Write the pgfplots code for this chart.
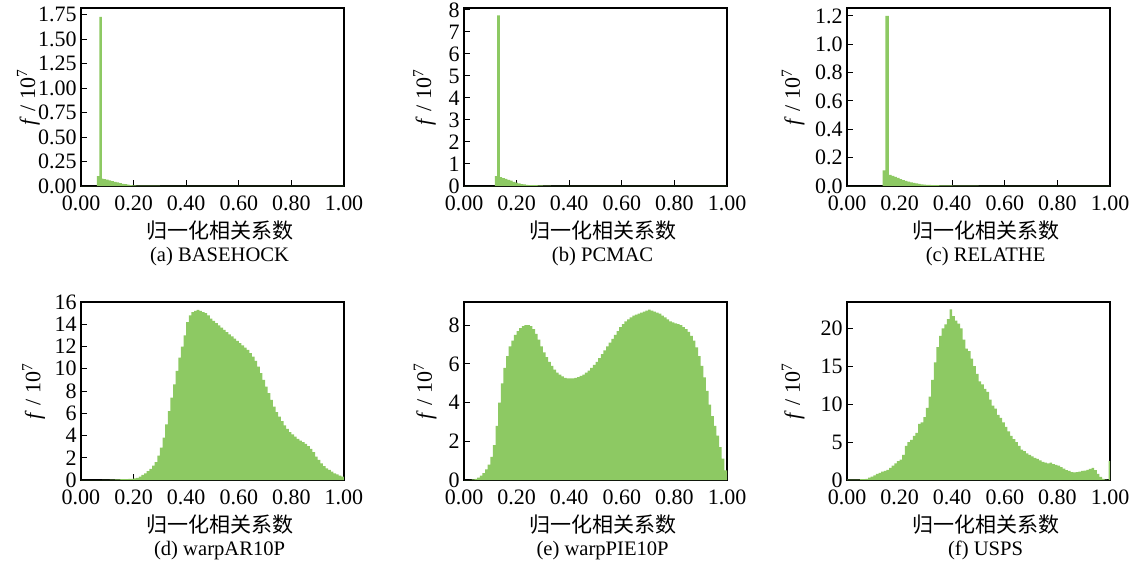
\documentclass[border=0pt]{standalone}
\usepackage{fontspec}
\setmainfont{Liberation Serif}
\newfontfamily\cjk{Noto Sans CJK SC}
\usepackage{pgfplots}
\pgfplotsset{compat=1.18}
\definecolor{histgreen}{RGB}{141,201,99}

\pgfplotsset{
  hist/.style={
    scale only axis,
    width=131.5pt, height=89pt,
    anchor=south west,
    xmin=0, xmax=1, ymin=0,
    axis line style={black, line width=0.7pt},
    tick align=inside,
    xtick pos=lower, ytick pos=lower,
    tick style={black, line width=0.5pt},
    major tick length=3pt,
    xtick={0,0.2,0.4,0.6,0.8,1},
    xticklabels={0.00,0.20,0.40,0.60,0.80,1.00},
    tick label style={font=\fontsize{11}{12}\selectfont},
    xticklabel style={yshift=-4.5pt, inner ysep=0pt},
    yticklabel style={inner xsep=2pt, inner ysep=0pt},
    ylabel={\textit{f} / 10\textsuperscript{7}},
    ylabel style={font=\fontsize{11}{12}\selectfont, anchor=center},
    xlabel style={font=\fontsize{10.3}{11.5}\selectfont, align=center,
      at={(axis description cs:0.527,-0.32)}, anchor=center},
  },
  bars/.style={fill=histgreen, draw=none, const plot mark left},
}

\begin{document}
\begin{tikzpicture}
\path[use as bounding box] (0,0) rectangle (568pt,-280.5pt);

% (a)
\begin{axis}[hist, at={(40.5pt,-93pt)}, ymax=1.82,
  ytick={0,0.25,0.5,0.75,1,1.25,1.5,1.75},
  yticklabels={0.00,0.25,0.50,0.75,1.00,1.25,1.50,1.75},
  ylabel style={at={(axis description cs:-0.2,0.5)}},
  xlabel={{\cjk\fontsize{10.5}{11.5}\selectfont 归一化相关系数}\\(a) BASEHOCK}]
\addplot[bars] coordinates {
(0,0) (0.060,0.10) (0.070,1.73) (0.079,0.075) (0.085,0.070) (0.095,0.065)
(0.105,0.058) (0.115,0.050) (0.125,0.043) (0.135,0.036) (0.145,0.029)
(0.155,0.023) (0.165,0.018) (0.175,0.013) (0.185,0.010) (0.195,0.007)
(0.21,0.005) (0.24,0.003) (0.30,0.002) (0.45,0.001) (0.70,0.0005) (1.0,0.0005)
} \closedcycle;
\end{axis}

% (b)
\begin{axis}[hist, at={(232pt,-93pt)}, ymax=8.09,
  ytick={0,1,2,3,4,5,6,7,8},
  yticklabels={0,1,2,3,4,5,6,7,8},
  ylabel style={at={(axis description cs:-0.15,0.5)}},
  xlabel={{\cjk\fontsize{10.5}{11.5}\selectfont 归一化相关系数}\\(b) PCMAC}]
\addplot[bars] coordinates {
(0,0) (0.117,0.45) (0.1255,7.75) (0.136,0.40) (0.145,0.36) (0.155,0.32)
(0.165,0.28) (0.175,0.24) (0.185,0.19) (0.195,0.15) (0.205,0.12) (0.215,0.09)
(0.225,0.07) (0.235,0.055) (0.245,0.045) (0.26,0.035) (0.28,0.025) (0.30,0.015)
(0.33,0.008) (0.40,0.004) (0.55,0.002) (1.0,0.002)
} \closedcycle;
\end{axis}

% (c)
\begin{axis}[hist, at={(423.5pt,-93pt)}, ymax=1.256,
  ytick={0,0.2,0.4,0.6,0.8,1.0,1.2},
  yticklabels={0.0,0.2,0.4,0.6,0.8,1.0,1.2},
  ylabel style={at={(axis description cs:-0.205,0.5)}},
  xlabel={{\cjk\fontsize{10.5}{11.5}\selectfont 归一化相关系数}\\(c) RELATHE}]
\addplot[bars] coordinates {
(0,0) (0.135,0.11) (0.146,1.20) (0.159,0.078) (0.17,0.072) (0.18,0.065)
(0.19,0.058) (0.20,0.048) (0.21,0.042) (0.22,0.036) (0.23,0.031) (0.24,0.026)
(0.25,0.022) (0.26,0.018) (0.27,0.015) (0.28,0.012) (0.29,0.010) (0.30,0.008)
(0.32,0.006) (0.35,0.004) (0.40,0.003) (0.50,0.0015) (1.0,0.0015)
} \closedcycle;
\end{axis}

% (d)
\begin{axis}[hist, at={(40.5pt,-240pt)}, ymax=16,
  ytick={0,2,4,6,8,10,12,14,16},
  yticklabels={0,2,4,6,8,10,12,14,16},
  ylabel style={at={(axis description cs:-0.18,0.5)}},
  xlabel={{\cjk\fontsize{10.5}{11.5}\selectfont 归一化相关系数}\\(d) warpAR10P}]
\addplot[bars] table[row sep=\\] {
x y\\
0.00 0\\ 0.01 0\\ 0.02 0\\ 0.03 0\\ 0.04 0\\ 0.05 0\\ 0.06 0\\ 0.07 0\\ 0.08 0.01\\ 0.09 0.01\\
0.10 0.02\\ 0.11 0.03\\ 0.12 0.04\\ 0.13 0.05\\ 0.14 0.06\\ 0.15 0.07\\ 0.16 0.08\\ 0.17 0.09\\ 0.18 0.10\\ 0.19 0.11\\
0.20 0.15\\ 0.21 0.20\\ 0.22 0.30\\ 0.23 0.45\\ 0.24 0.60\\ 0.25 0.80\\ 0.26 1.0\\ 0.27 1.3\\ 0.28 1.6\\ 0.29 2.2\\
0.30 2.9\\ 0.31 3.8\\ 0.32 5.0\\ 0.33 6.2\\ 0.34 7.4\\ 0.35 8.6\\ 0.36 9.8\\ 0.37 11.0\\ 0.38 12.0\\ 0.39 13.0\\
0.40 14.2\\ 0.41 14.8\\ 0.42 15.1\\ 0.43 15.2\\ 0.44 15.3\\ 0.45 15.2\\ 0.46 15.1\\ 0.47 15.0\\ 0.48 14.8\\ 0.49 14.5\\
0.50 14.3\\ 0.51 14.1\\ 0.52 13.9\\ 0.53 13.7\\ 0.54 13.5\\ 0.55 13.3\\ 0.56 13.1\\ 0.57 12.9\\ 0.58 12.7\\ 0.59 12.5\\
0.60 12.3\\ 0.61 12.1\\ 0.62 11.9\\ 0.63 11.7\\ 0.64 11.4\\ 0.65 11.1\\ 0.66 10.7\\ 0.67 10.2\\ 0.68 9.6\\ 0.69 9.0\\
0.70 8.4\\ 0.71 7.8\\ 0.72 7.2\\ 0.73 6.6\\ 0.74 6.1\\ 0.75 5.7\\ 0.76 5.3\\ 0.77 4.9\\ 0.78 4.6\\ 0.79 4.3\\
0.80 4.1\\ 0.81 3.9\\ 0.82 3.7\\ 0.83 3.55\\ 0.84 3.4\\ 0.85 3.25\\ 0.86 3.05\\ 0.87 2.8\\ 0.88 2.5\\ 0.89 2.1\\
0.90 1.8\\ 0.91 1.5\\ 0.92 1.25\\ 0.93 1.05\\ 0.94 0.9\\ 0.95 0.75\\ 0.96 0.6\\ 0.97 0.5\\ 0.98 0.4\\ 0.99 0.3\\
1.00 0.3\\
} \closedcycle;
\end{axis}

% (e)
\begin{axis}[hist, at={(232pt,-240pt)}, ymax=9.2,
  ytick={0,2,4,6,8},
  yticklabels={0,2,4,6,8},
  ylabel style={at={(axis description cs:-0.148,0.5)}},
  xlabel={{\cjk\fontsize{10.5}{11.5}\selectfont 归一化相关系数}\\(e) warpPIE10P}]
\addplot[bars] table[row sep=\\] {
x y\\
0.00 0\\ 0.01 0\\ 0.02 0.01\\ 0.03 0.03\\ 0.04 0.06\\ 0.05 0.12\\ 0.06 0.22\\ 0.07 0.35\\ 0.08 0.55\\ 0.09 0.8\\
0.10 1.2\\ 0.11 1.8\\ 0.12 2.8\\ 0.13 4.0\\ 0.14 5.0\\ 0.15 5.8\\ 0.16 6.4\\ 0.17 6.9\\ 0.18 7.2\\ 0.19 7.5\\
0.20 7.7\\ 0.21 7.85\\ 0.22 7.95\\ 0.23 8.0\\ 0.24 8.0\\ 0.25 7.95\\ 0.26 7.8\\ 0.27 7.55\\ 0.28 7.25\\ 0.29 6.9\\
0.30 6.6\\ 0.31 6.35\\ 0.32 6.1\\ 0.33 5.9\\ 0.34 5.7\\ 0.35 5.55\\ 0.36 5.45\\ 0.37 5.35\\ 0.38 5.28\\ 0.39 5.25\\
0.40 5.25\\ 0.41 5.25\\ 0.42 5.28\\ 0.43 5.32\\ 0.44 5.38\\ 0.45 5.45\\ 0.46 5.55\\ 0.47 5.65\\ 0.48 5.8\\ 0.49 5.95\\
0.50 6.1\\ 0.51 6.3\\ 0.52 6.5\\ 0.53 6.7\\ 0.54 6.9\\ 0.55 7.1\\ 0.56 7.3\\ 0.57 7.5\\ 0.58 7.7\\ 0.59 7.9\\
0.60 8.05\\ 0.61 8.2\\ 0.62 8.3\\ 0.63 8.4\\ 0.64 8.5\\ 0.65 8.55\\ 0.66 8.6\\ 0.67 8.65\\ 0.68 8.7\\ 0.69 8.75\\
0.70 8.8\\ 0.71 8.75\\ 0.72 8.7\\ 0.73 8.65\\ 0.74 8.6\\ 0.75 8.5\\ 0.76 8.4\\ 0.77 8.3\\ 0.78 8.2\\ 0.79 8.15\\
0.80 8.1\\ 0.81 8.05\\ 0.82 8.0\\ 0.83 7.9\\ 0.84 7.8\\ 0.85 7.65\\ 0.86 7.45\\ 0.87 7.2\\ 0.88 6.85\\ 0.89 6.4\\
0.90 5.9\\ 0.91 5.3\\ 0.92 4.6\\ 0.93 3.9\\ 0.94 3.3\\ 0.95 2.8\\ 0.96 2.3\\ 0.97 1.7\\ 0.98 1.1\\ 0.99 0.5\\
1.00 0.5\\
} \closedcycle;
\end{axis}

% (f)
\begin{axis}[hist, at={(423.5pt,-240pt)}, ymax=23.46,
  ytick={0,5,10,15,20},
  yticklabels={0,5,10,15,20},
  ylabel style={at={(axis description cs:-0.205,0.5)}},
  xlabel={{\cjk\fontsize{10.5}{11.5}\selectfont 归一化相关系数}\\(f) USPS}]
\addplot[bars] table[row sep=\\] {
x y\\
0.00 0.05\\ 0.01 0.05\\ 0.02 0.05\\ 0.03 0.05\\ 0.04 0.05\\ 0.05 0.1\\ 0.06 0.1\\ 0.07 0.15\\ 0.08 0.3\\ 0.09 0.45\\
0.10 0.6\\ 0.11 0.8\\ 0.12 0.95\\ 0.13 1.1\\ 0.14 1.2\\ 0.15 1.35\\ 0.16 1.6\\ 0.17 1.9\\ 0.18 2.2\\ 0.19 2.5\\
0.20 2.7\\ 0.21 3.3\\ 0.22 4.5\\ 0.23 5.0\\ 0.24 5.3\\ 0.25 5.8\\ 0.26 6.2\\ 0.27 7.4\\ 0.28 7.6\\ 0.29 8.3\\
0.30 9.5\\ 0.31 11.0\\ 0.32 13.2\\ 0.33 15.5\\ 0.34 17.5\\ 0.35 19.0\\ 0.36 20.0\\ 0.37 20.5\\ 0.38 21.2\\ 0.39 22.5\\
0.40 21.6\\ 0.41 21.0\\ 0.42 20.6\\ 0.43 20.0\\ 0.44 18.5\\ 0.45 17.3\\ 0.46 17.0\\ 0.47 16.0\\ 0.48 15.0\\ 0.49 14.0\\
0.50 13.0\\ 0.51 12.6\\ 0.52 12.0\\ 0.53 11.6\\ 0.54 10.6\\ 0.55 9.8\\ 0.56 9.4\\ 0.57 8.6\\ 0.58 8.2\\ 0.59 7.6\\
0.60 7.0\\ 0.61 6.4\\ 0.62 5.8\\ 0.63 5.4\\ 0.64 5.0\\ 0.65 4.5\\ 0.66 4.0\\ 0.67 3.8\\ 0.68 3.5\\ 0.69 3.3\\
0.70 3.1\\ 0.71 2.9\\ 0.72 2.8\\ 0.73 2.6\\ 0.74 2.4\\ 0.75 2.3\\ 0.76 2.2\\ 0.77 2.3\\ 0.78 2.1\\ 0.79 2.0\\
0.80 1.9\\ 0.81 1.7\\ 0.82 1.5\\ 0.83 1.3\\ 0.84 1.2\\ 0.85 1.05\\ 0.86 1.0\\ 0.87 1.05\\ 0.88 1.1\\ 0.89 1.2\\
0.90 1.25\\ 0.91 1.35\\ 0.92 1.45\\ 0.93 1.6\\ 0.94 1.3\\ 0.95 0.8\\ 0.96 0.4\\ 0.97 0.15\\ 0.98 0.05\\ 0.99 0.0\\
0.995 2.5\\ 1.00 2.5\\
} \closedcycle;
\end{axis}
\end{tikzpicture}
\end{document}
